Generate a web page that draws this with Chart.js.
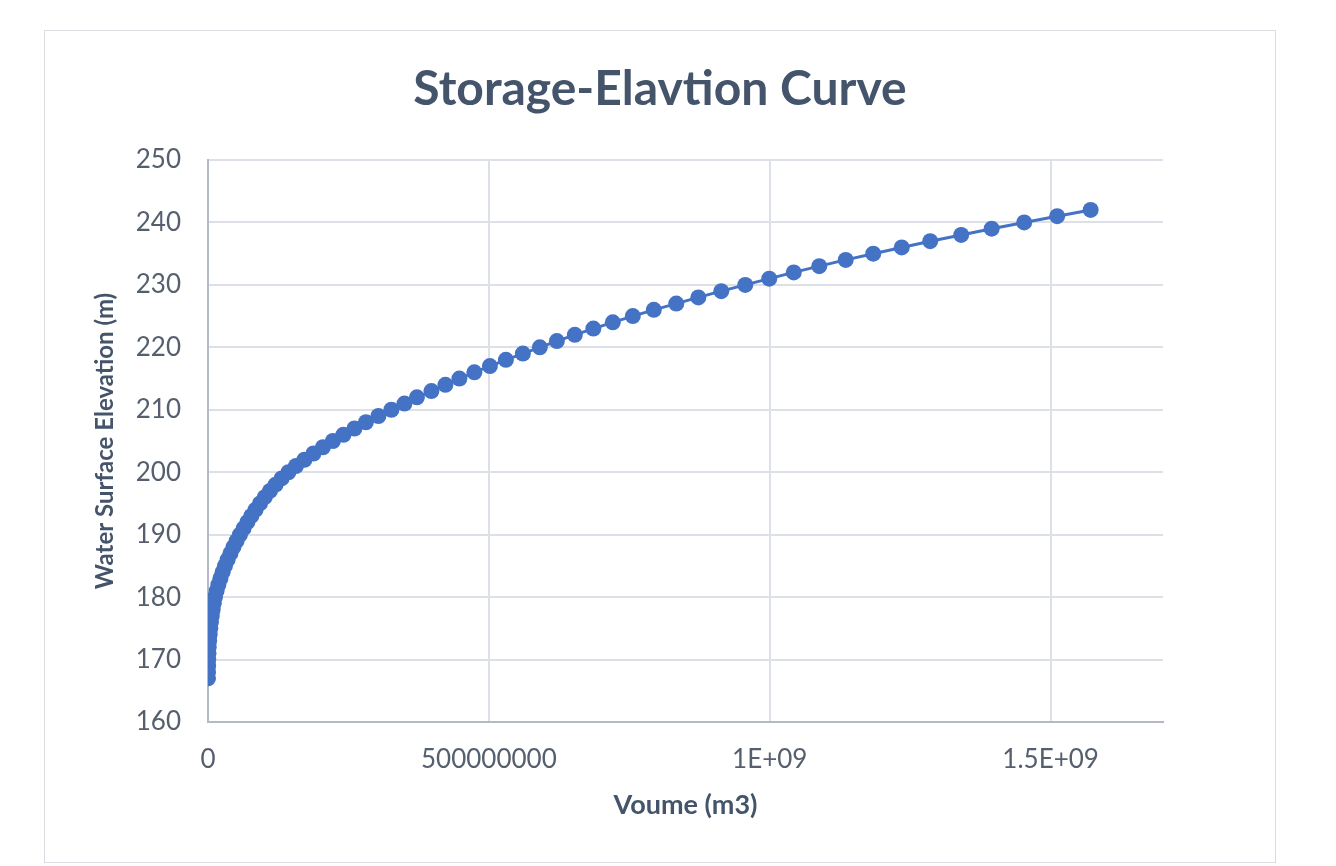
<!DOCTYPE html>
<html>
<head>
<meta charset="utf-8">
<script src="https://cdn.jsdelivr.net/npm/chart.js@4/dist/chart.umd.min.js"></script>
<style>
  html, body { margin: 0; padding: 0; background: #ffffff; }
  body { width: 1336px; height: 866px; position: relative; overflow: hidden; }
  #frame {
    position: absolute; left: 44px; top: 30px;
    width: 1232px; height: 833px;
    box-sizing: border-box; border: 1px solid #d9dce1;
    background: #ffffff;
  }
</style>
</head>
<body>
<div id="frame"><canvas id="chart"></canvas></div>
<script>
// Water surface elevation (m) for each stored volume (m3)
const elevations = [
  167, 168, 169, 170, 171, 172, 173, 174, 175, 176,
  177, 178, 179, 180, 181, 182, 183, 184, 185, 186,
  187, 188, 189, 190, 191, 192, 193, 194, 195, 196,
  197, 198, 199, 200, 201, 202, 203, 204, 205, 206,
  207, 208, 209, 210, 211, 212, 213, 214, 215, 216,
  217, 218, 219, 220, 221, 222, 223, 224, 225, 226,
  227, 228, 229, 230, 231, 232, 233, 234, 235, 236,
  237, 238, 239, 240, 241, 242
];
const volumes = [
  0, 0.1e6, 0.3e6, 0.5e6, 0.9e6, 1.4e6, 2.1e6, 3.0e6, 4.1e6, 5.3e6,
  6.8e6, 8.4e6, 10.3e6, 12.5e6, 15.3e6, 18.5e6, 22.1e6, 26.0e6, 30.2e6, 34.9e6,
  39.9e6, 45.2e6, 50.9e6, 56.9e6, 63.3e6, 70.1e6, 77.2e6, 84.7e6, 92.5e6, 101.1e6,
  110.3e6, 120.3e6, 131.0e6, 143.2e6, 156.6e6, 171.7e6, 187.7e6, 204.6e6, 222.4e6, 241.1e6,
  260.7e6, 281.1e6, 303.4e6, 326.5e6, 349.7e6, 371.9e6, 397.7e6, 422.6e6, 447.5e6, 474.2e6,
  501.8e6, 530.3e6, 560.5e6, 590.7e6, 621.0e6, 653.0e6, 686.0e6, 720.6e6, 756.2e6, 793.6e6,
  833.6e6, 872.8e6, 913.7e6, 956.4e6, 999.1e6, 1042.7e6, 1088.1e6, 1135.2e6, 1184.2e6, 1234.9e6,
  1285.6e6, 1340.8e6, 1395.0e6, 1452.9e6, 1511.6e6, 1571.2e6
];

// Axis ticks
const xTickValues = [0, 500000000, 1000000000, 1500000000];
const xTickLabels = ['0', '500000000', '1E+09', '1.5E+09'];
const yTickValues = [160, 170, 180, 190, 200, 210, 220, 230, 240, 250];

const points = volumes.map((v, i) => ({ x: v, y: elevations[i] }));

const FONT = 'Lato, "Open Sans", sans-serif';
const TEXT = '#555f6d';
const TITLE = '#44546a';
const BLUE = '#4472c4';
const GRID = '#dde1e7';
const AXIS = '#b4bac5';

new Chart(document.getElementById('chart'), {
  type: 'scatter',
  data: {
    datasets: [{
      data: points,
      showLine: true,
      borderColor: BLUE,
      borderWidth: 3,
      backgroundColor: BLUE,
      pointRadius: 8,
      pointBorderWidth: 0,
      pointHoverRadius: 8
    }]
  },
  options: {
    responsive: true,
    maintainAspectRatio: false,
    animation: false,
    events: [],
    layout: { padding: 0 },
    plugins: {
      legend: { display: false },
      tooltip: { enabled: false },
      title: {
        display: true,
        text: 'Storage-Elavtion Curve',
        color: TITLE,
        font: { family: FONT, size: 48, weight: 'bold', lineHeight: 1.2 },
        padding: { top: 30, bottom: 41.4 }
      }
    },
    scales: {
      x: {
        type: 'linear',
        min: 0,
        max: 1700000000,
        afterBuildTicks: (scale) => {
          scale.ticks = xTickValues.map(v => ({ value: v }));
        },
        afterFit: (scale) => { scale.height = 140; },
        ticks: {
          color: TEXT,
          font: { family: FONT, size: 26 },
          padding: 22,
          maxRotation: 0,
          callback: (value) => {
            const i = xTickValues.indexOf(value);
            return i >= 0 ? xTickLabels[i] : '';
          }
        },
        grid: { color: GRID, lineWidth: 2, drawTicks: false },
        border: { color: AXIS, width: 2 },
        title: {
          display: true,
          text: 'Voume (m3)',
          color: TITLE,
          font: { family: FONT, size: 27, weight: 'bold', lineHeight: 1.2 },
          padding: { top: 0, bottom: 40.8 }
        }
      },
      y: {
        type: 'linear',
        min: 160,
        max: 250,
        afterBuildTicks: (scale) => {
          scale.ticks = yTickValues.map(v => ({ value: v }));
        },
        afterFit: (scale) => { scale.width = 163; },
        ticks: {
          color: TEXT,
          font: { family: FONT, size: 26 },
          padding: 27
        },
        grid: { color: GRID, lineWidth: 2, drawTicks: false },
        border: { color: AXIS, width: 2 },
        title: {
          display: true,
          text: 'Water Surface Elevation (m)',
          color: TITLE,
          font: { family: FONT, size: 24, weight: 'bold', lineHeight: 1.2 },
          padding: { top: 45.6, bottom: 0 }
        }
      },
      // empty right-hand margin so the plot stops short of the frame
      yRight: {
        type: 'linear',
        position: 'right',
        display: true,
        afterFit: (scale) => { scale.width = 112; },
        ticks: { display: false },
        grid: { display: false, drawTicks: false },
        border: { display: false },
        title: { display: false }
      }
    }
  }
});
</script>
</body>
</html>
